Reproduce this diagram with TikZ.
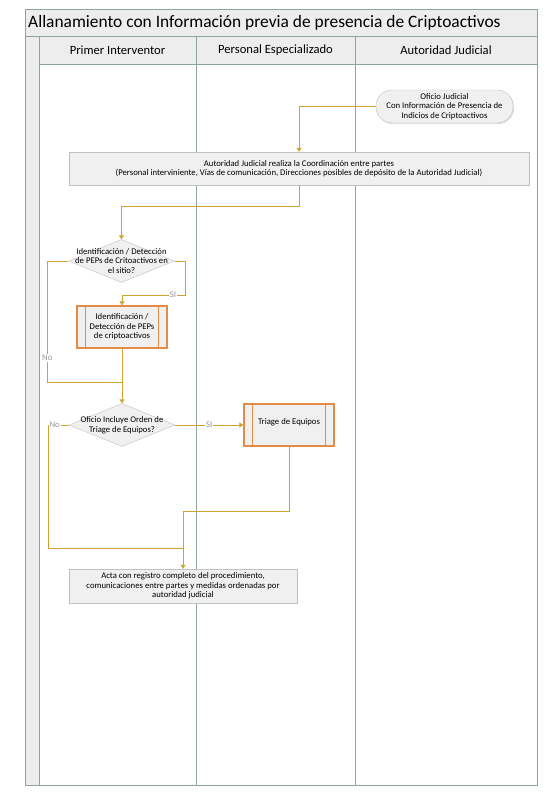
\documentclass[tikz,border=0pt]{standalone}
\usepackage{fontspec}
\setmainfont{Carlito}
\usetikzlibrary{shapes.geometric,arrows.meta,shadows}

\definecolor{laneline}{RGB}{140,165,158}
\definecolor{bandfill}{RGB}{236,237,236}
\definecolor{boxfill}{RGB}{240,240,240}
\definecolor{boxline}{RGB}{192,192,192}
\definecolor{flowgold}{RGB}{204,163,46}
\definecolor{procorange}{RGB}{228,140,70}
\definecolor{lblgray}{RGB}{150,150,150}

\tikzset{
  lane/.style={draw=laneline, line width=0.8pt},
  lanehead/.style={font=\fontsize{12.6}{14}\selectfont},
  taskbox/.style={draw=boxline, fill=boxfill, align=center, inner sep=0pt,
    drop shadow={shadow xshift=1.2pt, shadow yshift=-1.2pt, opacity=0.25}},
  terminal/.style={taskbox, rounded corners=16pt, minimum width=137pt, minimum height=33pt},
  procbox/.style={draw=procorange, line width=1.4pt, fill=boxfill, align=center,
    minimum width=90pt, minimum height=42pt, inner sep=0pt},
  decision/.style={diamond, draw=boxline, fill=boxfill, inner sep=0pt,
    minimum width=106pt, minimum height=43pt},
  dtext/.style={align=center},
  flow/.style={draw=flowgold, semithick, -{Triangle[length=4pt,width=5pt]}},
  merge/.style={draw=flowgold, semithick},
  lbl/.style={fill=white, text=lblgray, inner sep=1pt},
}

\begin{document}
\begin{tikzpicture}[x=1pt, y=-1pt, font=\fontsize{8.7}{9.5}\selectfont]
    \useasboundingbox (0,0) rectangle (554,795);

    % pool and lanes
    \fill[bandfill] (25,9) rectangle (537,64);
    \fill[bandfill] (25,64) rectangle (39,785);
    \draw[lane] (25,9) rectangle (537,785);
    \draw[lane] (25,36) -- (537,36);
    \draw[lane] (39,36) -- (39,785);
    \draw[lane] (39,64) -- (537,64);
    \foreach \x in {196,355}
        \draw[lane] (\x,36) -- (\x,785);

    \node[anchor=west, inner sep=0pt, font=\fontsize{17.4}{20}\selectfont] (title) at (28,22.5)
        {Allanamiento con Información previa de presencia de Criptoactivos};
    \node[lanehead] (primer) at (117.5,50) {Primer Interventor};
    \node[lanehead] (personal) at (275.5,50) {Personal Especializado};
    \node[lanehead] (autoridad) at (446,50) {Autoridad Judicial};

    % steps
    \node[terminal] (oficio) at (444.5,106.5)
        {Oficio Judicial\\Con Información de Presencia de\\Indicios de Criptoactivos};
    \node[taskbox, minimum width=460pt, minimum height=33pt] (coord) at (299,168.5)
        {Autoridad Judicial realiza la Coordinación entre partes\\(Personal interviniente, Vías de comunicación, Direcciones posibles de depósito de la Autoridad Judicial)};
    \node[decision, label={[dtext]center:Identificación / Detección\\de PEPs de Critoactivos en\\el sitio?}] (deteccion) at (121.5,261) {};
    \node[procbox] (identif) at (122,327)
        {Identificación /\\Detección de PEPs\\de criptoactivos};
    \node[decision, label={[dtext]center:Oficio Incluye Orden de\\Triage de Equipos?}] (orden) at (122,425) {};
    \node[procbox, text depth=7pt] (triage) at (289,425) {Triage de Equipos};
    \node[taskbox, minimum width=228pt, minimum height=34pt] (acta) at (183,586)
        {Acta con registro completo del procedimiento,\\comunicaciones entre partes y medidas ordenadas por\\autoridad judicial};

    \foreach \p in {identif,triage} {
        \draw[procorange, line width=1.1pt] ([xshift=9pt]\p.north west) -- ([xshift=9pt]\p.south west);
        \draw[procorange, line width=1.1pt] ([xshift=-9pt]\p.north east) -- ([xshift=-9pt]\p.south east);
    }

    \coordinate (unionA) at (122,382);
    \coordinate (unionB) at (183,548);

    % connectors
    \draw[flow] (oficio.west) -| (coord.north);
    \draw[flow] (coord.south) -- ++(0,21) -| (deteccion.north);
    \draw[flow] (deteccion.east) -| ++(11,34) -| node[lbl, pos=0.1] {SI} (identif.north);
    \draw[merge] (deteccion.west) -- ++(-21,0) |- node[lbl, pos=0.4] {No} (unionA);
    \draw[flow] (identif.south) -- (orden.north);
    \draw[flow] (orden.east) -- node[lbl] {SI} (triage.west);
    \draw[merge] (orden.west) -- node[lbl, pos=0.67] {No} ++(-21,0) |- (unionB);
    \draw[flow] (triage.south) -- ++(0,65) -| (acta.north);
\end{tikzpicture}
\end{document}
